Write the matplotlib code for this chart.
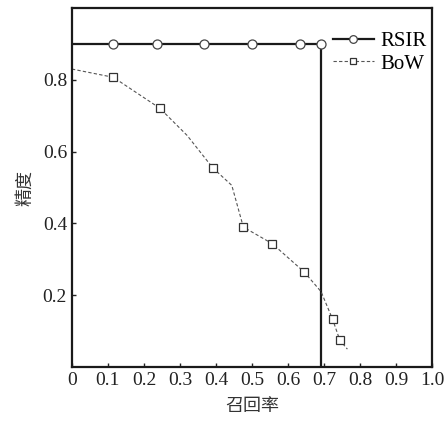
import numpy as np
import matplotlib
matplotlib.use('Agg')
import matplotlib.pyplot as plt

plt.rcParams['font.family'] = ['Liberation Serif', 'Noto Sans CJK SC']

# RSIR 曲线
rsir_recall = [0.0, 0.115, 0.235, 0.367, 0.50, 0.633, 0.692, 0.692]
rsir_precision = [0.9, 0.9, 0.9, 0.9, 0.9, 0.9, 0.9, 0.0]
rsir_marks = [1, 2, 3, 4, 5, 6]

# BoW 曲线
bow_recall = [0.0, 0.115, 0.244, 0.32, 0.391, 0.444, 0.476, 0.556, 0.645, 0.692, 0.724, 0.744, 0.765]
bow_precision = [0.83, 0.807, 0.721, 0.645, 0.555, 0.506, 0.39, 0.344, 0.265, 0.21, 0.133, 0.075, 0.05]
bow_marks = [1, 2, 4, 6, 7, 8, 10, 11]

xticks = [0, 0.1, 0.2, 0.3, 0.4, 0.5, 0.6, 0.7, 0.8, 0.9, 1.0]
xticklabels = ['0', '0.1', '0.2', '0.3', '0.4', '0.5', '0.6', '0.7', '0.8', '0.9', '1.0']
yticks = [0.2, 0.4, 0.6, 0.8]

fig = plt.figure(figsize=(4.44, 4.21), dpi=100)
ax = fig.add_axes([0.162, 0.128, 0.811, 0.853])

ax.plot(rsir_recall, rsir_precision, color='#1a1a1a', lw=1.6, marker='o',
        markevery=rsir_marks, ms=6.5, mfc='white', mec='#444444', mew=0.9, label='RSIR')
ax.plot(bow_recall, bow_precision, color='#555555', lw=0.8, ls=(0, (3, 2)), marker='s',
        markevery=bow_marks, ms=5.2, mfc='white', mec='#333333', mew=0.9, label='BoW')

ax.set_xlim(0, 1.0)
ax.set_ylim(0, 1.0)
ax.set_xticks(xticks)
ax.set_xticklabels(xticklabels)
ax.set_yticks(yticks)
ax.tick_params(direction='in', length=3, width=1, labelsize=14, colors='#222222')
for s in ax.spines.values():
    s.set_linewidth(1.6)
    s.set_color('#1a1a1a')

ax.set_xlabel('召回率', fontsize=13, family=['Noto Sans CJK SC'], color='#333333', labelpad=6)
ax.set_ylabel('精度', fontsize=13, family=['Noto Sans CJK SC'], color='#333333', labelpad=6)

ax.legend(loc='upper right', bbox_to_anchor=(1.02, 0.97), frameon=False, fontsize=15,
          handlelength=2.0, handletextpad=0.3, labelspacing=0.15, borderaxespad=0.2,
          markerscale=0.85)

fig.savefig('out.png', dpi=100)
